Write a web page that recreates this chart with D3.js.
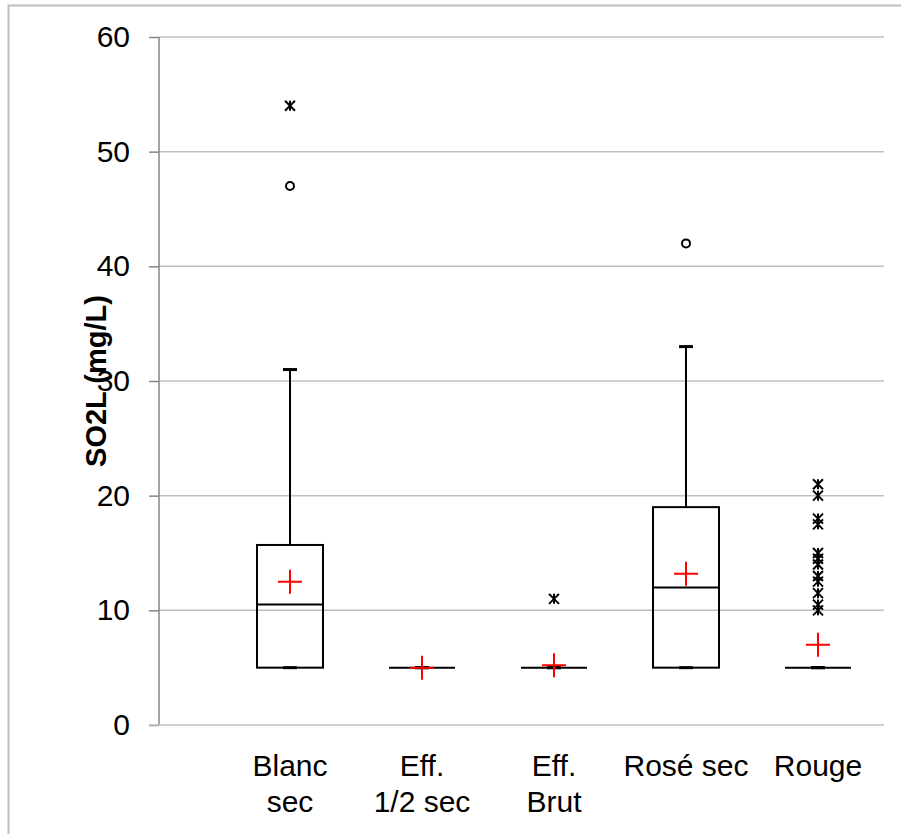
<!DOCTYPE html>
<html>
<head>
<meta charset="utf-8">
<script src="https://cdn.jsdelivr.net/npm/d3@7"></script>
<style>
  body { margin: 0; background: #fff; }
  text { font-family: "Liberation Sans", Arial, sans-serif; }
</style>
</head>
<body>
<div id="chart"></div>
<script>
// categories and box statistics (mg/L)
const categories = ["Blanc sec", "Eff. 1/2 sec", "Eff. Brut", "Rosé sec", "Rouge"];
const catLines = [["Blanc", "sec"], ["Eff.", "1/2 sec"], ["Eff.", "Brut"], ["Rosé sec"], ["Rouge"]];
const minVals = [5, 5, 5, 5, 5];
const q1Vals = [5, 5, 5, 5, 5];
const medVals = [10.5, 5, 5, 12, 5];
const q3Vals = [15.7, 5, 5, 19, 5];
const whiskerTop = [31, 5, 5, 33, 5];
const meanVals = [12.5, 5, 5.2, 13.2, 7];
// outliers: circles (moderate) and stars (extreme)
const circleOutliers = [[47], [], [], [42], []];
const starOutliers = [[54], [], [11], [], [21, 20, 18, 17.5, 15, 14.5, 14, 13, 12.5, 11.5, 10.5, 10]];
const yTicks = [0, 10, 20, 30, 40, 50, 60];

const width = 901, height = 834;
const svg = d3.select("#chart").append("svg")
    .attr("width", width)
    .attr("height", height);

// outer chart border (only left/top are inside the window)
svg.append("rect")
    .attr("x", 8.5).attr("y", 5.5)
    .attr("width", 1000).attr("height", 1000)
    .attr("fill", "none")
    .attr("stroke", "#bfbfbf")
    .attr("stroke-width", 2);

const axisX = 159, plotRight = 884;
const y = d3.scaleLinear().domain([0, 60]).range([725, 37]);
const x = d3.scaleBand().domain(categories).range([224, 884]);

// gridlines
svg.append("g")
  .selectAll("line")
  .data(yTicks.filter(d => d > 0))
  .join("line")
    .attr("x1", axisX).attr("x2", plotRight)
    .attr("y1", d => y(d)).attr("y2", d => y(d))
    .attr("stroke", "#c0c0c0")
    .attr("stroke-width", 1.5);

// y axis
const yAxis = svg.append("g")
    .attr("transform", `translate(${axisX},0)`)
    .call(d3.axisLeft(y).tickValues(yTicks).tickSize(10).tickPadding(19));
yAxis.select(".domain").remove();
yAxis.selectAll(".tick line").attr("stroke", "#868686").attr("stroke-width", 1.5);
yAxis.selectAll(".tick text").attr("font-size", 30).attr("fill", "#000");
svg.append("line")
    .attr("x1", axisX).attr("x2", axisX)
    .attr("y1", y(60)).attr("y2", y(0))
    .attr("stroke", "#868686").attr("stroke-width", 1.5);
// x baseline
svg.append("line")
    .attr("x1", axisX - 10).attr("x2", plotRight)
    .attr("y1", y(0)).attr("y2", y(0))
    .attr("stroke", "#c0c0c0").attr("stroke-width", 1.5);

// y title
svg.append("text")
    .attr("transform", `translate(106,${y(30)}) rotate(-90)`)
    .attr("text-anchor", "middle")
    .attr("font-size", 29)
    .attr("font-weight", "bold")
    .text("SO2L (mg/L)");

// category labels
categories.forEach((c, i) => {
  const cx = x(c) + x.bandwidth() / 2;
  const t = svg.append("text")
      .attr("text-anchor", "middle")
      .attr("font-size", 30)
      .attr("x", cx).attr("y", 776);
  catLines[i].forEach((l, j) => {
    t.append("tspan").attr("x", cx).attr("dy", j === 0 ? 0 : 36).text(l);
  });
});

// boxes
const boxW = x.bandwidth() / 2;
const g = svg.append("g");
categories.forEach((c, i) => {
  const cx = x(c) + x.bandwidth() / 2;
  // whisker
  g.append("line")
      .attr("x1", cx).attr("x2", cx)
      .attr("y1", y(q3Vals[i])).attr("y2", y(whiskerTop[i]))
      .attr("stroke", "#000").attr("stroke-width", 2);
  g.append("line")
      .attr("x1", cx - 7).attr("x2", cx + 7)
      .attr("y1", y(whiskerTop[i])).attr("y2", y(whiskerTop[i]))
      .attr("stroke", "#000").attr("stroke-width", 3);
  g.append("line")
      .attr("x1", cx - 7).attr("x2", cx + 7)
      .attr("y1", y(minVals[i])).attr("y2", y(minVals[i]))
      .attr("stroke", "#000").attr("stroke-width", 3);
  // box
  g.append("rect")
      .attr("x", cx - boxW / 2).attr("width", boxW)
      .attr("y", y(q3Vals[i]))
      .attr("height", Math.max(0, y(q1Vals[i]) - y(q3Vals[i])))
      .attr("fill", "none")
      .attr("stroke", "#000").attr("stroke-width", 2);
  g.append("line")
      .attr("x1", cx - boxW / 2).attr("x2", cx + boxW / 2)
      .attr("y1", y(medVals[i])).attr("y2", y(medVals[i]))
      .attr("stroke", "#000").attr("stroke-width", 2);
  // mean
  g.append("path")
      .attr("d", `M${cx - 12},${y(meanVals[i])}H${cx + 12}M${cx},${y(meanVals[i]) - 12}V${y(meanVals[i]) + 12}`)
      .attr("stroke", "red").attr("stroke-width", 2).attr("fill", "none");
  // outliers
  circleOutliers[i].forEach(v => {
    g.append("circle")
        .attr("cx", cx).attr("cy", y(v)).attr("r", 4)
        .attr("fill", "none").attr("stroke", "#000").attr("stroke-width", 2);
  });
  starOutliers[i].forEach(v => {
    const yy = y(v);
    g.append("path")
        .attr("d", `M${cx - 5},${yy - 5}L${cx + 5},${yy + 5}M${cx - 5},${yy + 5}L${cx + 5},${yy - 5}M${cx},${yy - 5}V${yy + 5}`)
        .attr("stroke", "#000").attr("stroke-width", 2).attr("fill", "none");
  });
});
</script>
</body>
</html>
